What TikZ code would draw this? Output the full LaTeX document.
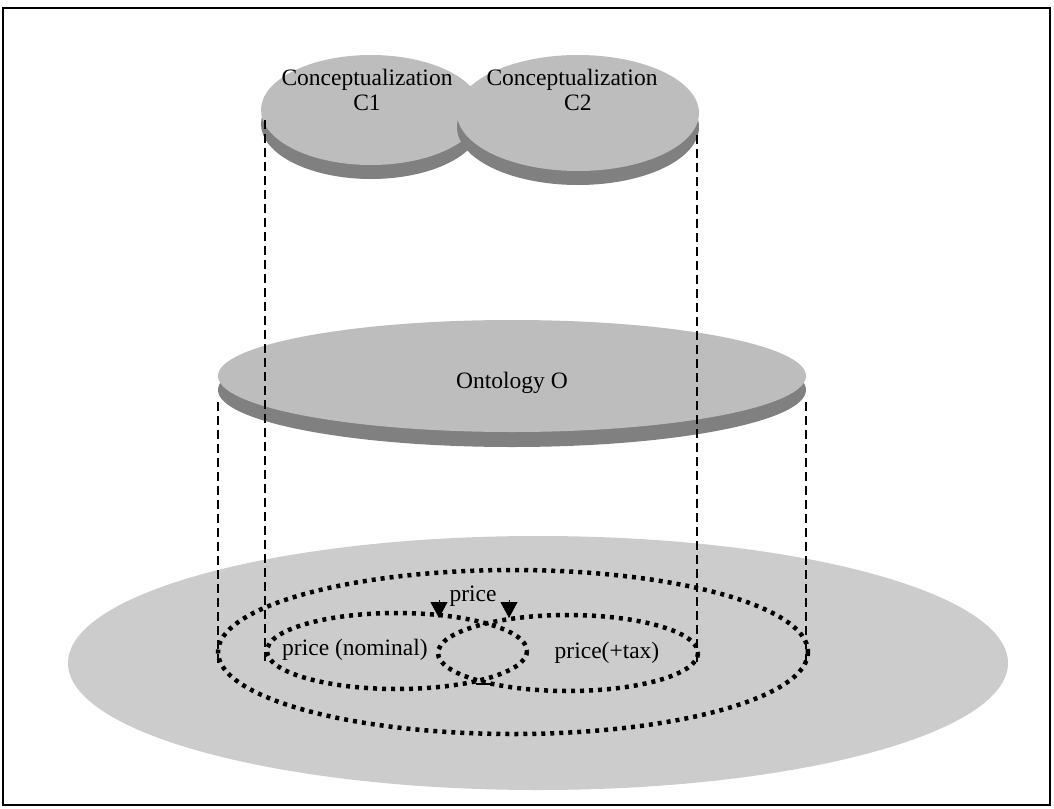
\documentclass[tikz,border=0pt]{standalone}
\usepackage{fontspec}
\setmainfont{Liberation Serif}
\usetikzlibrary{arrows.meta}
\definecolor{diskgray}{gray}{0.74}
\definecolor{sidegray}{gray}{0.50}
\definecolor{basegray}{gray}{0.80}

\begin{document}
\begin{tikzpicture}[x=1pt,y=-1pt,
  disk top/.style={fill=diskgray},
  disk side/.style={fill=sidegray},
  base disk/.style={fill=basegray},
  drop line/.style={line width=1.8pt,dash pattern=on 9pt off 5pt},
  dot ring/.style={line width=4.5pt,dash pattern=on 4pt off 5pt},
  price arrow/.style={line width=1pt,-{Triangle[length=16pt,width=17pt]}},
  label node/.style={font=\fontsize{23.5}{25}\selectfont,align=center,inner sep=0pt}]

  \useasboundingbox (0,0) rectangle (1054,808);
  \draw[line width=1.6pt] (3,8) rectangle (1050,805);

  % ground level
  \fill[base disk] (538,663) ellipse [x radius=470,y radius=127];

  % ontology disk
  \fill[disk side] (512,390) ellipse [x radius=294,y radius=57];
  \fill[disk top] (512,376) ellipse [x radius=294,y radius=56];

  % conceptualizations
  \fill[disk side] (371,124) ellipse [x radius=110,y radius=55];
  \fill[disk top] (371,110) ellipse [x radius=110,y radius=55];
  \fill[disk side] (578,127) ellipse [x radius=121,y radius=58];
  \fill[disk top] (578,113) ellipse [x radius=121,y radius=58];

  \node[label node] (c1) at (367,90) {Conceptualization\\C1};
  \node[label node] (c2) at (572,90) {Conceptualization\\\hspace*{0.5em}C2};
  \node[label node] (onto) at (512,383) {Ontology O};

  % dotted extents
  \draw[dot ring] (513,652) ellipse [x radius=295,y radius=82];
  \draw[dot ring] (397,651) ellipse [x radius=130,y radius=38];
  \draw[dot ring] (568,653) ellipse [x radius=130,y radius=38];

  \node[label node] (price) at (473,596) {price};
  \node[label node] (nominal) at (355,650) {price (nominal)};
  \node[label node] (tax) at (607,653) {price(+tax)};

  % projections
  \coordinate (c1 top) at (265,120);
  \coordinate (c1 bot) at (265,662);
  \coordinate (c2 top) at (697,135);
  \coordinate (c2 bot) at (697,662);
  \coordinate (o left top) at (218,402);
  \coordinate (o left bot) at (218,664);
  \coordinate (o right top) at (806,402);
  \coordinate (o right bot) at (806,664);
  \draw[drop line] (c1 top) -- (c1 bot);
  \draw[drop line] (c2 top) -- (c2 bot);
  \draw[drop line] (o left top) -- (o left bot);
  \draw[drop line] (o right top) -- (o right bot);

  \coordinate (nom tail) at (439,600);
  \coordinate (nom tip) at (439,618);
  \coordinate (tax tail) at (509,600);
  \coordinate (tax tip) at (509,618);
  \draw[price arrow] (nom tail) -- (nom tip);
  \draw[price arrow] (tax tail) -- (tax tip);
  \coordinate (meet l) at (476,684);
  \coordinate (meet r) at (491,684);
  \draw[line width=2.5pt] (meet l) -- (meet r);
\end{tikzpicture}
\end{document}
